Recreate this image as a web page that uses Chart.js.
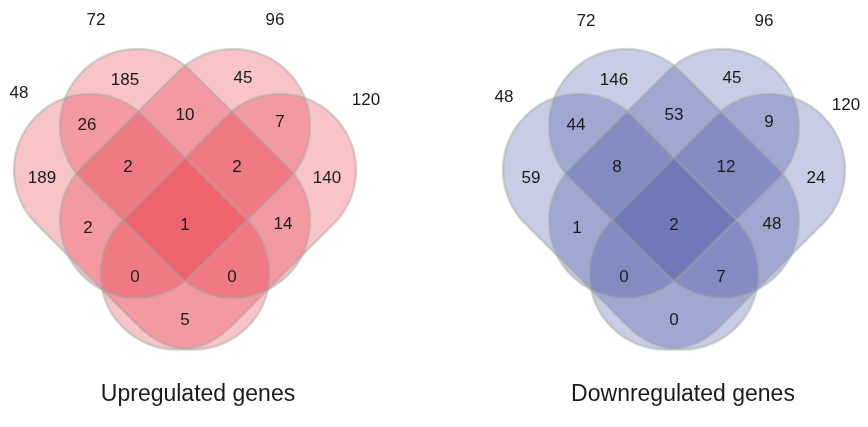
<!DOCTYPE html>
<html>
<head>
<meta charset="utf-8">
<script src="https://cdn.jsdelivr.net/npm/chart.js@4.4.1/dist/chart.umd.min.js"></script>
<style>
  html, body { margin: 0; padding: 0; background: #fff; }
  #wrap { display: flex; width: 868px; height: 427px; }
  canvas { display: block; }
</style>
</head>
<body>
<div id="wrap">
  <canvas id="upChart" width="434" height="427"></canvas>
  <canvas id="downChart" width="434" height="427"></canvas>
</div>
<script>
// sets (time points) and region counts
const setNames = ['48', '72', '96', '120'];
// region order: A, B, C, D, AB, BC, CD, AD, ABC, BCD, AC, BD, ACD, ABD, ABCD
const regionKeys = ['A', 'B', 'C', 'D', 'AB', 'BC', 'CD', 'AD', 'ABC', 'BCD', 'AC', 'BD', 'ACD', 'ABD', 'ABCD'];
const upCounts = [189, 185, 45, 140, 26, 10, 7, 5, 2, 2, 2, 14, 0, 0, 1];
const downCounts = [59, 146, 45, 24, 44, 53, 9, 0, 8, 12, 1, 48, 0, 7, 2];
const titles = ['Upregulated genes', 'Downregulated genes'];

// layout of the 4-set diagram, in pixel units around the diagram centre
const shapes = [
    { p1: [-95, -55], p2: [8.5, 48.5], r: 76 },   // A
    { p1: [-48, -99], p2: [48, -4], r: 77 },      // B
    { p1: [48, -99], p2: [-48, -4], r: 77 },      // C
    { p1: [95, -55], p2: [-8.5, 48.5], r: 76 }    // D
];
const regionSpots = {
    A: [-143, -47], B: [-60, -145], C: [58, -147], D: [142, -47],
    AB: [-98, -100], BC: [0, -110], CD: [95, -103], AD: [0, 95],
    ABC: [-57, -58], BCD: [52, -58], AC: [-97, 3], BD: [98, -1],
    ACD: [-50, 52], ABD: [47, 52], ABCD: [0, 0]
};

const vennPlugin = {
    id: 'venn',
    beforeDatasetsDraw(chart, args, opts) {
        const { ctx, scales: { x, y } } = chart;
        const px = v => x.getPixelForValue(v);
        const py = v => y.getPixelForValue(v);
        const path = s => {
            const a = [px(s.p1[0]), py(s.p1[1])];
            const b = [px(s.p2[0]), py(s.p2[1])];
            const r = Math.abs(px(s.r) - px(0));
            const phi = Math.atan2(b[1] - a[1], b[0] - a[0]);
            ctx.beginPath();
            ctx.arc(b[0], b[1], r, phi - Math.PI / 2, phi + Math.PI / 2);
            ctx.arc(a[0], a[1], r, phi + Math.PI / 2, phi + Math.PI * 1.5);
            ctx.closePath();
        };
        ctx.save();
        shapes.forEach(s => {
            path(s);
            ctx.fillStyle = opts.fill;
            ctx.fill();
        });
        shapes.forEach(s => {
            path(s);
            ctx.strokeStyle = 'rgba(165, 165, 165, 0.45)';
            ctx.lineWidth = 2.5;
            ctx.stroke();
        });
        ctx.restore();
    },
    afterDatasetsDraw(chart, args, opts) {
        const { ctx, scales: { x, y } } = chart;
        ctx.save();
        ctx.fillStyle = '#1a1a1a';
        ctx.textAlign = 'center';
        ctx.textBaseline = 'middle';
        ctx.font = '17px "Liberation Sans", Arial, sans-serif';
        const meta = chart.getDatasetMeta(0);
        meta.data.forEach((pt, i) => {
            ctx.fillText(String(chart.data.datasets[0].counts[i]), pt.x, pt.y);
        });
        opts.setSpots.forEach((p, i) => {
            ctx.fillText(setNames[i], x.getPixelForValue(p[0]), y.getPixelForValue(p[1]));
        });
        ctx.font = '23px "Liberation Sans", Arial, sans-serif';
        ctx.fillText(opts.title, x.getPixelForValue(opts.titleSpot[0]), y.getPixelForValue(opts.titleSpot[1]));
        ctx.restore();
    }
};

function makeVenn(id, counts, title, fill, xMin, setSpots, titleSpot) {
    const ctx = document.getElementById(id).getContext('2d');
    new Chart(ctx, {
        type: 'scatter',
        data: {
            datasets: [{
                label: title,
                counts: counts,
                data: regionKeys.map(k => ({ x: regionSpots[k][0], y: regionSpots[k][1] })),
                pointRadius: 0,
                pointHoverRadius: 0
            }]
        },
        options: {
            responsive: false,
            animation: false,
            layout: { padding: 0 },
            scales: {
                x: { type: 'linear', display: false, min: xMin, max: xMin + 434 },
                y: { type: 'linear', display: false, min: -225, max: 202, reverse: true }
            },
            plugins: {
                legend: { display: false },
                tooltip: { enabled: false },
                venn: { fill: fill, title: title, setSpots: setSpots, titleSpot: titleSpot }
            }
        },
        plugins: [vennPlugin]
    });
}

makeVenn('upChart', upCounts, titles[0], 'rgba(230, 44, 59, 0.28)', -185,
    [[-166, -132], [-89, -205], [90, -205], [181, -125]], [13, 170]);
makeVenn('downChart', downCounts, titles[1], 'rgba(59, 73, 159, 0.28)', -240,
    [[-170, -128], [-88, -204], [90, -204], [172, -120]], [9, 170]);
</script>
</body>
</html>
